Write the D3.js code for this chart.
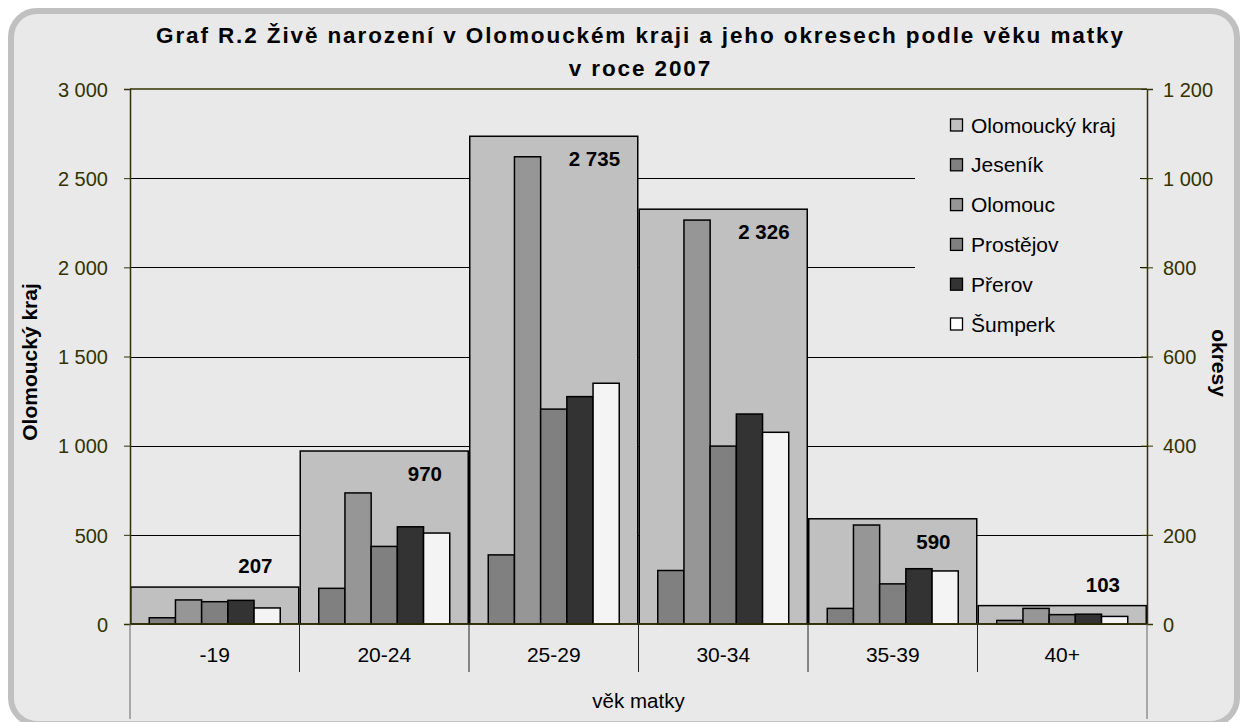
<!DOCTYPE html>
<html>
<head>
<meta charset="utf-8">
<script src="https://cdn.jsdelivr.net/npm/d3@7"></script>
<style>
  body { margin: 0; background: #ffffff; }
  svg { display: block; font-family: "Liberation Sans", Arial, sans-serif; }
  .tick text { fill: #333300; font-size: 20px; }
</style>
</head>
<body>
<div id="chart"></div>
<script>
// data
const categories = ["-19", "20-24", "25-29", "30-34", "35-39", "40+"];
const krajValues = [207, 970, 2735, 2326, 590, 103];
const districts = ["Jeseník", "Olomouc", "Prostějov", "Přerov", "Šumperk"];
const jesenik = [14, 80, 155, 120, 35, 8];
const olomouc = [54, 294, 1048, 906, 222, 35];
const prostejov = [50, 174, 482, 399, 90, 21];
const prerov = [53, 218, 510, 471, 124, 22];
const sumperk = [36, 204, 540, 430, 119, 17];
const leftTicks = [0, 500, 1000, 1500, 2000, 2500, 3000];
const rightTicks = [0, 200, 400, 600, 800, 1000, 1200];

const districtValues = [jesenik, olomouc, prostejov, prerov, sumperk];
const districtColors = ["#808080", "#969696", "#808080", "#333333", "#f4f4f4"];
const krajColor = "#c0c0c0";
const bg = "#e9e9e9";
const olive = "#333300";

const width = 1241, height = 722;
const plot = {left: 130, right: 1147, top: 89, bottom: 624};

const fmt = d3.formatLocale({decimal: ",", thousands: " ", grouping: [3], currency: ["", ""]}).format(",d");

const svg = d3.select("#chart").append("svg")
    .attr("width", width)
    .attr("height", height);

// outer rounded frame
svg.append("rect")
    .attr("x", 11).attr("y", 11)
    .attr("width", 1226).attr("height", 713)
    .attr("rx", 26).attr("ry", 26)
    .attr("fill", bg)
    .attr("stroke", "#c0c0c0")
    .attr("stroke-width", 6);

let x = d3.scaleBand()
    .domain(categories)
    .range([plot.left, plot.right])
    .padding(0);

let xInner = d3.scaleBand()
    .domain(districts)
    .range([0, x.bandwidth()])
    .paddingInner(0)
    .paddingOuter(0.735);

let yLeft = d3.scaleLinear().domain([0, 3000]).range([plot.bottom, plot.top]);
let yRight = d3.scaleLinear().domain([0, 1200]).range([plot.bottom, plot.top]);

// gridlines
svg.append("g")
    .selectAll("line")
    .data(leftTicks.filter(d => d > 0 && d < 3000))
    .enter().append("line")
    .attr("x1", plot.left).attr("x2", plot.right)
    .attr("y1", d => Math.round(yLeft(d)) + 0.5)
    .attr("y2", d => Math.round(yLeft(d)) + 0.5)
    .attr("stroke", "#000")
    .attr("stroke-width", 1);

svg.append("line")
    .attr("x1", plot.left).attr("x2", plot.right)
    .attr("y1", yLeft(3000)).attr("y2", yLeft(3000))
    .attr("stroke", olive).attr("stroke-width", 1.5);

// region (primary axis) bars
svg.append("g")
    .selectAll("rect")
    .data(krajValues)
    .enter().append("rect")
    .attr("x", (d, i) => x(categories[i]) + 0.75)
    .attr("y", d => yLeft(d))
    .attr("width", x.bandwidth() - 1.5)
    .attr("height", d => yLeft(0) - yLeft(d))
    .attr("fill", krajColor)
    .attr("stroke", "#000")
    .attr("stroke-width", 1.5);

// district (secondary axis) bars
districts.forEach((name, s) => {
    svg.append("g")
        .selectAll("rect")
        .data(districtValues[s])
        .enter().append("rect")
        .attr("x", (d, i) => x(categories[i]) + xInner(name))
        .attr("y", d => yRight(d))
        .attr("width", xInner.bandwidth())
        .attr("height", d => yRight(0) - yRight(d))
        .attr("fill", districtColors[s])
        .attr("stroke", "#000")
        .attr("stroke-width", 1.5);
});

// data labels for the region
svg.append("g")
    .selectAll("text")
    .data(krajValues)
    .enter().append("text")
    .attr("x", (d, i) => x(categories[i]) + x.bandwidth() * 0.74)
    .attr("y", d => {
        let top = yLeft(d);
        return (yLeft(0) - top > 60) ? top + 30 : top - 14;
    })
    .attr("text-anchor", "middle")
    .style("font-size", "20.5px")
    .style("font-weight", "bold")
    .attr("fill", "#000")
    .text(d => fmt(d));

// legend
const legendItems = ["Olomoucký kraj"].concat(districts);
const legendColors = [krajColor].concat(districtColors.slice(0, 4), ["#ffffff"]);
svg.append("rect")
    .attr("x", 915).attr("y", 98)
    .attr("width", 225).attr("height", 248)
    .attr("fill", bg);

let legend = svg.append("g")
    .selectAll("g")
    .data(legendItems)
    .enter().append("g")
    .attr("transform", (d, i) => "translate(950," + (125 + i * 39.8) + ")");

legend.append("rect")
    .attr("x", 0.5).attr("y", -6)
    .attr("width", 12).attr("height", 12)
    .attr("fill", (d, i) => legendColors[i])
    .attr("stroke", "#000")
    .attr("stroke-width", 1.3);

legend.append("text")
    .attr("x", 21).attr("y", 7.5)
    .style("font-size", "21px")
    .attr("fill", "#000")
    .text(d => d);

// axes
let leftAxis = svg.append("g")
    .attr("transform", "translate(" + plot.left + ",0)")
    .call(d3.axisLeft(yLeft).tickValues(leftTicks).tickSize(6).tickPadding(16).tickFormat(fmt));
leftAxis.select(".domain").attr("stroke", olive).attr("stroke-width", 1.5);
leftAxis.selectAll(".tick line").attr("stroke", olive);
leftAxis.selectAll(".tick text").attr("dy", "0.36em");

let rightAxis = svg.append("g")
    .attr("transform", "translate(" + plot.right + ",0)")
    .call(d3.axisRight(yRight).tickValues(rightTicks).tickSize(6).tickPadding(10).tickFormat(fmt));
rightAxis.select(".domain").attr("stroke", olive).attr("stroke-width", 1.5);
rightAxis.selectAll(".tick line").attr("x1", -6).attr("stroke", olive);
rightAxis.selectAll(".tick text").attr("dy", "0.36em");

// category axis
svg.append("line")
    .attr("x1", plot.left).attr("x2", plot.right)
    .attr("y1", plot.bottom).attr("y2", plot.bottom)
    .attr("stroke", olive).attr("stroke-width", 1.5);

svg.append("g")
    .selectAll("line")
    .data(categories.slice(1))
    .enter().append("line")
    .attr("x1", d => x(d)).attr("x2", d => x(d))
    .attr("y1", plot.bottom).attr("y2", 672)
    .attr("stroke", "#222").attr("stroke-width", 1);

[plot.left, plot.right].forEach(px => {
    svg.append("line")
        .attr("x1", px).attr("x2", px)
        .attr("y1", plot.bottom).attr("y2", 719)
        .attr("stroke", "#666").attr("stroke-width", 1);
});

svg.append("g")
    .selectAll("text")
    .data(categories)
    .enter().append("text")
    .attr("x", d => x(d) + x.bandwidth() / 2)
    .attr("y", 662)
    .attr("text-anchor", "middle")
    .style("font-size", "21px")
    .attr("fill", "#000")
    .text(d => d);

svg.append("text")
    .attr("x", (plot.left + plot.right) / 2)
    .attr("y", 708)
    .attr("text-anchor", "middle")
    .style("font-size", "20.5px")
    .attr("fill", "#000")
    .text("věk matky");

// axis titles
svg.append("text")
    .attr("transform", "translate(29,362) rotate(-90)")
    .attr("text-anchor", "middle")
    .attr("dominant-baseline", "central")
    .style("font-size", "21px")
    .style("font-weight", "bold")
    .text("Olomoucký kraj");

svg.append("text")
    .attr("transform", "translate(1219,363) rotate(90)")
    .attr("text-anchor", "middle")
    .attr("dominant-baseline", "central")
    .style("font-size", "21px")
    .style("font-weight", "bold")
    .text("okresy");

// title, spread to the measured width
let line1 = "Graf R.2 Živě narození v Olomouckém kraji a jeho okresech podle věku matky";
let t1 = svg.append("text")
    .attr("x", 639.5).attr("y", 43)
    .attr("text-anchor", "middle")
    .style("font-size", "22.5px")
    .style("font-weight", "bold")
    .text(line1);
let natural = t1.node().getComputedTextLength();
let spacing = Math.max(0, (967 - natural) / (line1.length - 1));
t1.style("letter-spacing", spacing + "px").attr("x", 639.5 + spacing / 2);

svg.append("text")
    .attr("x", 639.5 + spacing / 2).attr("y", 76)
    .attr("text-anchor", "middle")
    .style("font-size", "22.5px")
    .style("font-weight", "bold")
    .style("letter-spacing", spacing + "px")
    .text("v roce 2007");
</script>
</body>
</html>
